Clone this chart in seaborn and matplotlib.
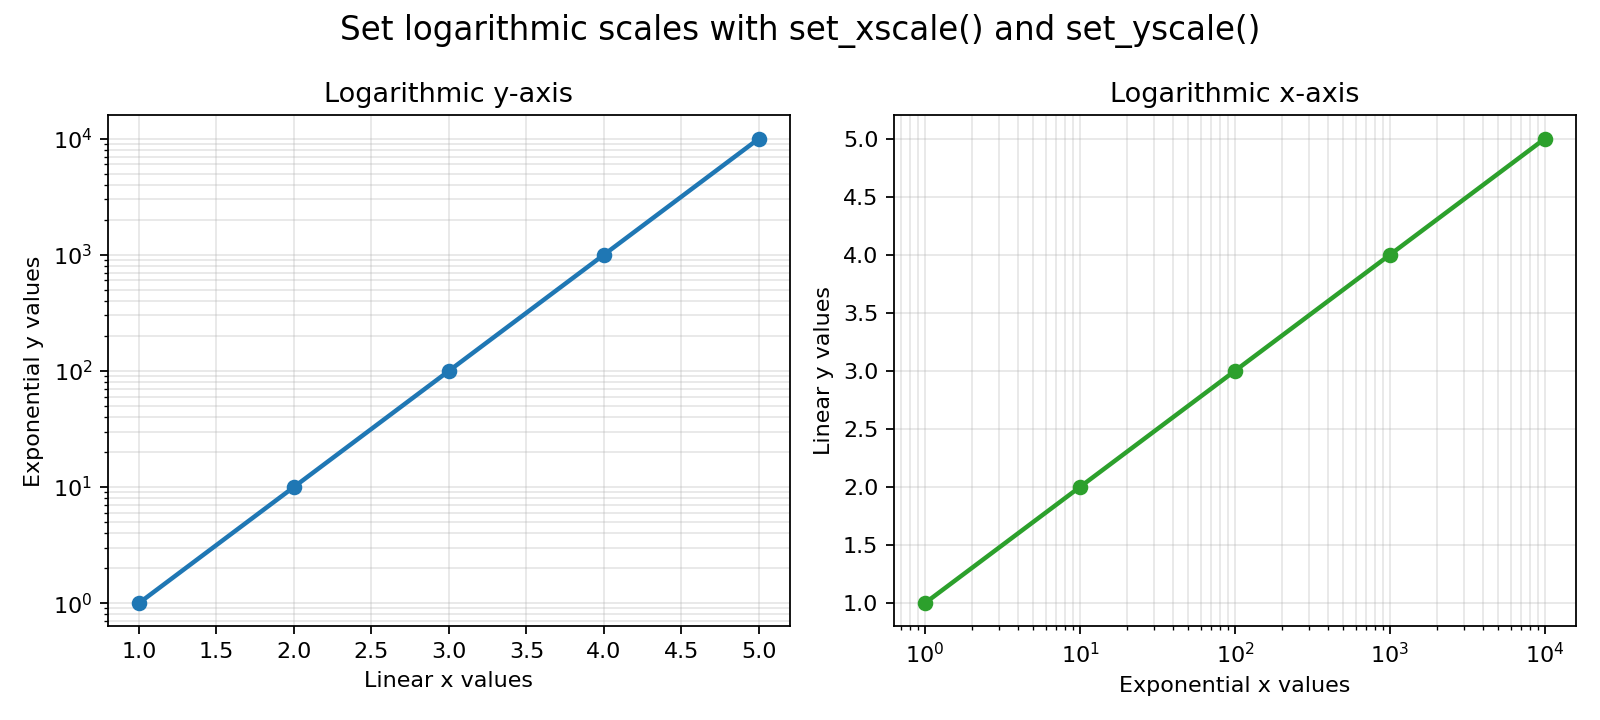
import numpy as np
import pandas as pd
import matplotlib
matplotlib.use('Agg')
import matplotlib.pyplot as plt
import seaborn as sns

# data
x_linear = [1, 2, 3, 4, 5]
y_exp = [1, 10, 100, 1000, 10000]
x_exp = [1, 10, 100, 1000, 10000]
y_linear = [1, 2, 3, 4, 5]

# plain matplotlib look (black text and spines)
plt.rcParams['font.family'] = ['DejaVu Sans']

fig, (ax1, ax2) = plt.subplots(1, 2, figsize=(10, 4.5), dpi=160)

# logarithmic y-axis
df1 = pd.DataFrame({'x': x_linear, 'y': y_exp})
sns.lineplot(data=df1, x='x', y='y', ax=ax1, marker='o', color='tab:blue',
             linewidth=2, markersize=7, markeredgewidth=0)
ax1.set_yscale('log')
ax1.set_title('Logarithmic y-axis', fontsize=12.2)
ax1.set_xlabel('Linear x values')
ax1.set_ylabel('Exponential y values')
ax1.grid(True, which='both', alpha=0.3)

# logarithmic x-axis
df2 = pd.DataFrame({'x': x_exp, 'y': y_linear})
sns.lineplot(data=df2, x='x', y='y', ax=ax2, marker='o', color='tab:green',
             linewidth=2, markersize=7, markeredgewidth=0)
ax2.set_xscale('log')
ax2.set_title('Logarithmic x-axis', fontsize=12.2)
ax2.set_xlabel('Exponential x values')
ax2.set_ylabel('Linear y values')
ax2.grid(True, which='both', alpha=0.3)

fig.suptitle('Set logarithmic scales with set_xscale() and set_yscale()', fontsize=14.7)
plt.tight_layout()
plt.savefig('out.png')
